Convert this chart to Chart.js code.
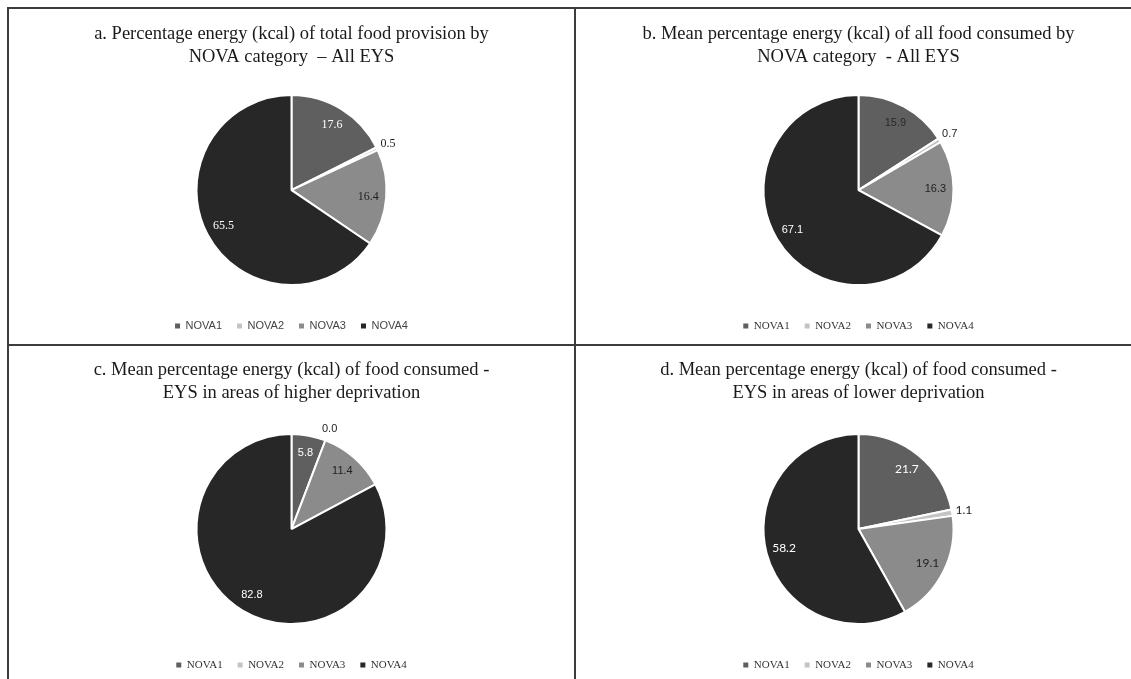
<!DOCTYPE html>
<html><head><meta charset="utf-8">
<script src="https://cdn.jsdelivr.net/npm/chart.js@4.4.0/dist/chart.umd.min.js"></script>
<style>
html,body{margin:0;padding:0;background:#fff;width:1131px;height:679px;overflow:hidden;position:relative}
.line{position:absolute;background:#3c3c3c}
.panel{position:absolute;width:565px;height:335px}
</style></head><body>
<div class="line" style="left:7px;top:7px;width:1124px;height:2px"></div>
<div class="line" style="left:7px;top:7px;width:2px;height:672px"></div>
<div class="line" style="left:574px;top:7px;width:2px;height:672px"></div>
<div class="line" style="left:7px;top:344px;width:1124px;height:2px"></div>
<div class="panel" style="left:9px;top:9px"><canvas id="ca"></canvas></div>
<div class="panel" style="left:576px;top:9px"><canvas id="cb"></canvas></div>
<div class="panel" style="left:9px;top:346px"><canvas id="cc"></canvas></div>
<div class="panel" style="left:576px;top:346px"><canvas id="cd"></canvas></div>
<script>
const categories = ['NOVA1', 'NOVA2', 'NOVA3', 'NOVA4'];
const valuesA = [17.6, 0.5, 16.4, 65.5];
const valuesB = [15.9, 0.7, 16.3, 67.1];
const valuesC = [5.8, 0.0, 11.4, 82.8];
const valuesD = [21.7, 1.1, 19.1, 58.2];
const titleA = ['a. Percentage energy (kcal) of total food provision by', 'NOVA category  \u2013 All EYS'];
const titleB = ['b. Mean percentage energy (kcal) of all food consumed by', 'NOVA category  - All EYS'];
const titleC = ['c. Mean percentage energy (kcal) of food consumed -', 'EYS in areas of higher deprivation'];
const titleD = ['d. Mean percentage energy (kcal) of food consumed -', 'EYS in areas of lower deprivation'];

const sliceColors = ['#5f5f5f', '#c4c4c4', '#8b8b8b', '#272727'];
const SERIF = "'Liberation Serif', 'Times New Roman', serif";
const SANS = "'Liberation Sans', Arial, sans-serif";

const labelPlugin = {
  id: 'sliceLabels',
  afterDatasetsDraw(chart, args, opts) {
    const ctx = chart.ctx;
    const meta = chart.getDatasetMeta(0);
    const data = chart.data.datasets[0].data;
    ctx.save();
    ctx.font = opts.font;
    ctx.textAlign = 'center';
    ctx.textBaseline = 'middle';
    meta.data.forEach((arc, i) => {
      const p = arc.getProps(['x', 'y', 'startAngle', 'endAngle', 'outerRadius'], true);
      const mid = (p.startAngle + p.endAngle) / 2;
      const v = data[i];
      let d, color;
      if (v < 2) { d = p.outerRadius + 12; color = opts.outsideColor; }
      else { d = p.outerRadius * 0.81; color = opts.colors[i]; }
      ctx.fillStyle = color;
      ctx.fillText(v.toFixed(1), p.x + Math.cos(mid) * d, p.y + Math.sin(mid) * d);
    });
    ctx.restore();
  }
};

function makeChart(id, values, title, cfg) {
  new Chart(document.getElementById(id), {
    type: 'pie',
    data: {
      labels: categories,
      datasets: [{
        data: values,
        backgroundColor: sliceColors,
        borderColor: '#ffffff',
        borderWidth: 2,
        radius: 95
      }]
    },
    plugins: [labelPlugin],
    options: {
      responsive: true,
      maintainAspectRatio: false,
      animation: false,
      layout: { padding: { top: 0, bottom: cfg.padBottom, left: 0, right: 0 } },
      plugins: {
        tooltip: { enabled: false },
        title: {
          display: true,
          text: title,
          color: '#1a1a1a',
          font: { family: SERIF, size: 18.5, weight: 'normal', lineHeight: 23 / 18.5 },
          padding: { top: cfg.titleTop, bottom: cfg.titleBottom }
        },
        legend: {
          position: 'bottom',
          labels: {
            color: cfg.legendColor,
            font: { family: cfg.legendFont, size: 11 },
            boxWidth: 5,
            boxHeight: 5,
            padding: 15,
            generateLabels(chart) {
              const items = Chart.overrides.pie.plugins.legend.labels.generateLabels(chart);
              items.forEach(it => { it.lineWidth = 0; it.strokeStyle = 'rgba(0,0,0,0)'; });
              return items;
            }
          }
        },
        sliceLabels: {
          font: cfg.labelFont,
          colors: cfg.labelColors,
          outsideColor: '#222222'
        }
      }
    }
  });
}

const topRow = { titleTop: 13.5, titleBottom: 6.1, padBottom: 2.4 };
const bottomRow = { titleTop: 12.5, titleBottom: 9.1, padBottom: 0.4 };

makeChart('ca', valuesA, titleA, Object.assign({
  legendColor: '#444444', legendFont: SANS,
  labelFont: "12px " + SERIF, labelColors: ['#ffffff', '#222222', '#222222', '#ffffff']
}, topRow));
makeChart('cb', valuesB, titleB, Object.assign({
  legendColor: '#333333', legendFont: SERIF,
  labelFont: "11px " + SANS, labelColors: ['#2a2a2a', '#222222', '#222222', '#ffffff']
}, topRow));
makeChart('cc', valuesC, titleC, Object.assign({
  legendColor: '#333333', legendFont: SERIF,
  labelFont: "11px " + SANS, labelColors: ['#ffffff', '#222222', '#222222', '#ffffff']
}, bottomRow));
makeChart('cd', valuesD, titleD, Object.assign({
  legendColor: '#333333', legendFont: SERIF,
  labelFont: "12px Lato, " + SANS, labelColors: ['#ffffff', '#222222', '#222222', '#ffffff']
}, bottomRow));
</script>
</body></html>
